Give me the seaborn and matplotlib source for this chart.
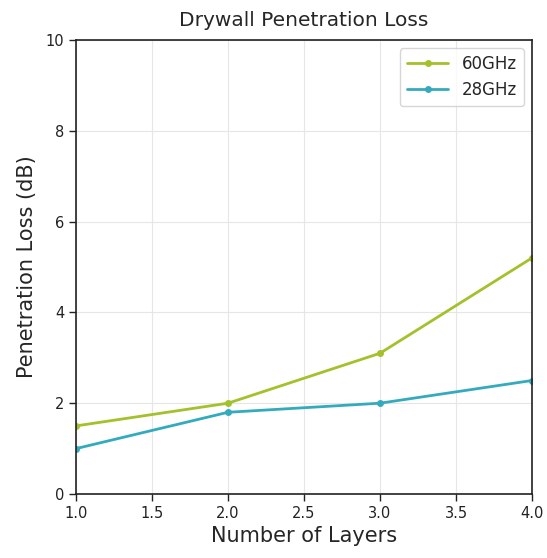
import matplotlib
matplotlib.use("Agg")
import matplotlib.pyplot as plt
import seaborn as sns
import pandas as pd

layers = [1, 2, 3, 4]
loss_60 = [1.5, 2.0, 3.1, 5.2]
loss_28 = [1.0, 1.8, 2.0, 2.5]
series_names = ["60GHz", "28GHz"]
colors = ["#a3c12b", "#34abbd"]

df = pd.DataFrame({
    "Layers": layers * 2,
    "Loss": loss_60 + loss_28,
    "Band": [series_names[0]] * 4 + [series_names[1]] * 4,
})

sns.set_style("ticks")
plt.rcParams['font.family'] = ['DejaVu Sans']

fig = plt.figure(figsize=(5.47, 5.58), dpi=100)
ax = fig.add_axes([76/547, 1 - 494/558, (532-76)/547, (494-40)/558])

sns.lineplot(data=df, x="Layers", y="Loss", hue="Band", palette=colors,
             marker="o", markersize=5, markeredgewidth=0, linewidth=2, ax=ax)

ax.set_xlim(1.0, 4.0)
ax.set_ylim(0, 10)
ax.set_xticks([1.0, 1.5, 2.0, 2.5, 3.0, 3.5, 4.0])
ax.set_yticks([0, 2, 4, 6, 8, 10])
ax.grid(True, color="#e6e6e6", linewidth=0.8)
ax.set_axisbelow(True)
for s in ax.spines.values():
    s.set_color("#222222")
    s.set_linewidth(1.2)
ax.tick_params(axis="both", direction="out", length=5, width=1, labelsize=10.5, colors="#222222")
ax.set_xlabel("Number of Layers", fontsize=15, labelpad=4)
ax.set_ylabel("Penetration Loss (dB)", fontsize=15, labelpad=6)
ax.set_title("Drywall Penetration Loss", fontsize=14.5, pad=10)
leg = ax.legend(loc="upper right", fontsize=12, frameon=True, handlelength=2.5)
leg.get_frame().set_edgecolor("#cccccc")

fig.savefig("out.png", dpi=100)
